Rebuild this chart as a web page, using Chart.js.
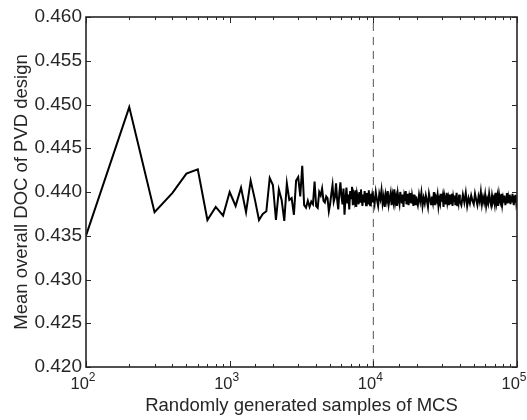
<!DOCTYPE html>
<html>
<head>
<meta charset="utf-8">
<script src="https://cdn.jsdelivr.net/npm/chart.js@4.4.1/dist/chart.umd.min.js"></script>
<style>
  html, body { margin: 0; padding: 0; background: #fff; }
  canvas { display: block; }
</style>
</head>
<body>
<canvas id="docChart" width="527" height="420"></canvas>
<script>
// mean DOC, sample counts 100..4900 (step 100)
const coarseDoc = [
  0.4350, 0.4497, 0.4377, 0.4399, 0.4421, 0.4426, 0.4368, 0.4383, 0.4373, 0.4400,
  0.4384, 0.4405, 0.4377, 0.4413, 0.4391, 0.4368, 0.4375, 0.4378, 0.4416, 0.4408,
  0.4368, 0.4403, 0.4391, 0.4367, 0.4410, 0.4391, 0.4393, 0.4374, 0.4413, 0.4417,
  0.4395, 0.4430, 0.4385, 0.4382, 0.4390, 0.4383, 0.4389, 0.4386, 0.4412, 0.4384,
  0.4382, 0.4400, 0.4396, 0.4404, 0.4390, 0.4388, 0.4395, 0.4393, 0.4378
];
// 5000..9900 (step 100)
const midDoc = [
  0.4386, 0.4398, 0.4408, 0.4389, 0.4394, 0.4410, 0.4391, 0.4380, 0.4399, 0.4411,
  0.4395, 0.4386, 0.4404, 0.4374, 0.4392, 0.4405, 0.4387, 0.4397, 0.4380, 0.4401,
  0.4393, 0.4406, 0.4385, 0.4396, 0.4390, 0.4402, 0.4383, 0.4398, 0.4393, 0.4386,
  0.4400, 0.4389, 0.4403, 0.4391, 0.4384, 0.4397, 0.4388, 0.4401, 0.4392, 0.4385,
  0.4399, 0.4394, 0.4387, 0.4402, 0.4390, 0.4385, 0.4398, 0.4391, 0.4396, 0.4388
];
// 10000..19800 (step 200)
const denseDocA = [
  0.4394, 0.4386, 0.4400, 0.4391, 0.4384, 0.4398, 0.4392, 0.4402, 0.4387, 0.4395,
  0.4383, 0.4397, 0.4390, 0.4401, 0.4386, 0.4393, 0.4399, 0.4385, 0.4396, 0.4389,
  0.4403, 0.4388, 0.4394, 0.4384, 0.4398, 0.4391, 0.4386, 0.4400, 0.4393, 0.4387,
  0.4397, 0.4383, 0.4395, 0.4390, 0.4401, 0.4386, 0.4392, 0.4398, 0.4385, 0.4394,
  0.4389, 0.4399, 0.4387, 0.4396, 0.4391, 0.4384, 0.4397, 0.4390, 0.4386, 0.4395
];
// 20000..39600 (step 400)
const denseDocB = [
  0.4391, 0.4385, 0.4397, 0.4389, 0.4399, 0.4384, 0.4393, 0.4387, 0.4396, 0.4390,
  0.4383, 0.4398, 0.4392, 0.4386, 0.4395, 0.4388, 0.4400, 0.4385, 0.4394, 0.4390,
  0.4397, 0.4384, 0.4392, 0.4387, 0.4398, 0.4389, 0.4395, 0.4383, 0.4396, 0.4391,
  0.4386, 0.4399, 0.4388, 0.4393, 0.4385, 0.4397, 0.4390, 0.4387, 0.4398, 0.4384,
  0.4394, 0.4389, 0.4396, 0.4386, 0.4392, 0.4399, 0.4385, 0.4393, 0.4388, 0.4397
];
// 40000..100000 (step 1000)
const denseDocC = [
  0.4390, 0.4385, 0.4397, 0.4388, 0.4399, 0.4384, 0.4393, 0.4387, 0.4396, 0.4390,
  0.4386, 0.4398, 0.4391, 0.4385, 0.4395, 0.4389, 0.4400, 0.4386, 0.4394, 0.4388,
  0.4397, 0.4384, 0.4392, 0.4387, 0.4398, 0.4390, 0.4385, 0.4396, 0.4389, 0.4393,
  0.4386, 0.4399, 0.4388, 0.4395, 0.4384, 0.4397, 0.4390, 0.4387, 0.4398, 0.4386,
  0.4393, 0.4388, 0.4396, 0.4385, 0.4392, 0.4399, 0.4387, 0.4394, 0.4389, 0.4397,
  0.4386, 0.4395, 0.4388, 0.4398, 0.4390, 0.4385, 0.4396, 0.4389, 0.4397, 0.4387,
  0.4391
];

const splitSamples = 10000;
const xTickLabels = ["10", "10", "10", "10"];
const xTickPowers = [2, 3, 4, 5];
const yTicks = { min: 0.42, max: 0.46, step: 0.005 };

const FONT = "'Liberation Sans', Arial, sans-serif";
const INK = "#262626";

function sampleCounts(start, step, n) {
  const out = [];
  for (let i = 0; i < n; i++) out.push(start + i * step);
  return out;
}

function toPoints(counts, values) {
  return values.map((v, i) => ({ x: counts[i], y: v }));
}

const points = [].concat(
  toPoints(sampleCounts(100, 100, coarseDoc.length), coarseDoc),
  toPoints(sampleCounts(5000, 100, midDoc.length), midDoc),
  toPoints(sampleCounts(10000, 200, denseDocA.length), denseDocA),
  toPoints(sampleCounts(20000, 400, denseDocB.length), denseDocB),
  toPoints(sampleCounts(40000, 1000, denseDocC.length), denseDocC)
);

// box, inward ticks and 10^n labels, matlab style
const axesBox = {
  id: "axesBox",
  afterDraw(chart) {
    const ctx = chart.ctx;
    const a = chart.chartArea;
    const xs = chart.scales.x;
    const ys = chart.scales.y;
    ctx.save();
    ctx.strokeStyle = INK;
    ctx.lineWidth = 1;
    ctx.beginPath();
    ys.ticks.forEach((t) => {
      const y = Math.round(ys.getPixelForValue(t.value)) + 0.5;
      ctx.moveTo(a.left, y); ctx.lineTo(a.left + 5, y);
      ctx.moveTo(a.right, y); ctx.lineTo(a.right - 5, y);
    });
    xs.ticks.forEach((t) => {
      const p = Math.log10(t.value);
      const len = Math.abs(p - Math.round(p)) < 1e-9 ? 6 : 3;
      const x = Math.round(xs.getPixelForValue(t.value)) + 0.5;
      ctx.moveTo(x, a.bottom); ctx.lineTo(x, a.bottom - len);
      ctx.moveTo(x, a.top); ctx.lineTo(x, a.top + len);
    });
    ctx.stroke();

    ctx.lineWidth = 1.6;
    ctx.strokeRect(a.left, a.top, a.right - a.left, a.bottom - a.top);

    ctx.fillStyle = INK;
    ctx.textBaseline = "alphabetic";
    xTickPowers.forEach((pw, i) => {
      const x = xs.getPixelForValue(Math.pow(10, pw));
      ctx.font = "16.5px " + FONT;
      const baseW = ctx.measureText(xTickLabels[i]).width;
      ctx.font = "12px " + FONT;
      const expW = ctx.measureText(String(pw)).width;
      const left = x - 3 - (baseW + expW) / 2;
      ctx.font = "16.5px " + FONT;
      ctx.textAlign = "left";
      ctx.fillText(xTickLabels[i], left, a.bottom + 22);
      ctx.font = "12px " + FONT;
      ctx.fillText(String(pw), left + baseW, a.bottom + 14);
    });
    ctx.restore();
  }
};

const config = {
  type: "line",
  data: {
    datasets: [
      {
        data: points,
        borderColor: "#000",
        borderWidth: 2,
        pointRadius: 0,
        tension: 0,
      },
      {
        data: [{ x: splitSamples, y: yTicks.min }, { x: splitSamples, y: yTicks.max }],
        borderColor: "#555",
        borderWidth: 1,
        borderDash: [8, 6],
        pointRadius: 0,
      },
    ],
  },
  options: {
    responsive: false,
    animation: false,
    devicePixelRatio: 1,
    layout: { padding: { top: 17, right: 10, left: 0, bottom: 0 } },
    plugins: {
      legend: { display: false },
      tooltip: { enabled: false },
    },
    scales: {
      x: {
        type: "logarithmic",
        min: 100,
        max: 100000,
        grid: { display: false },
        border: { display: false },
        ticks: { display: false },
        title: {
          display: true,
          text: "Randomly generated samples of MCS",
          color: INK,
          font: { family: FONT, size: 18.5 },
          padding: { top: 0, bottom: 3 },
        },
        afterFit(scale) { scale.height = 53; },
      },
      y: {
        min: yTicks.min,
        max: yTicks.max,
        grid: { display: false, drawTicks: false },
        border: { display: false },
        ticks: {
          stepSize: yTicks.step,
          color: INK,
          padding: 4,
          font: { family: FONT, size: 19 },
          callback: (v) => v.toFixed(3),
        },
        title: {
          display: true,
          text: "Mean overall DOC of PVD design",
          color: INK,
          font: { family: FONT, size: 18.5 },
          padding: { top: 11, bottom: 0 },
        },
        afterFit(scale) { scale.width = 86; },
      },
    },
  },
  plugins: [axesBox],
};

new Chart(document.getElementById("docChart").getContext("2d"), config);
</script>
</body>
</html>
